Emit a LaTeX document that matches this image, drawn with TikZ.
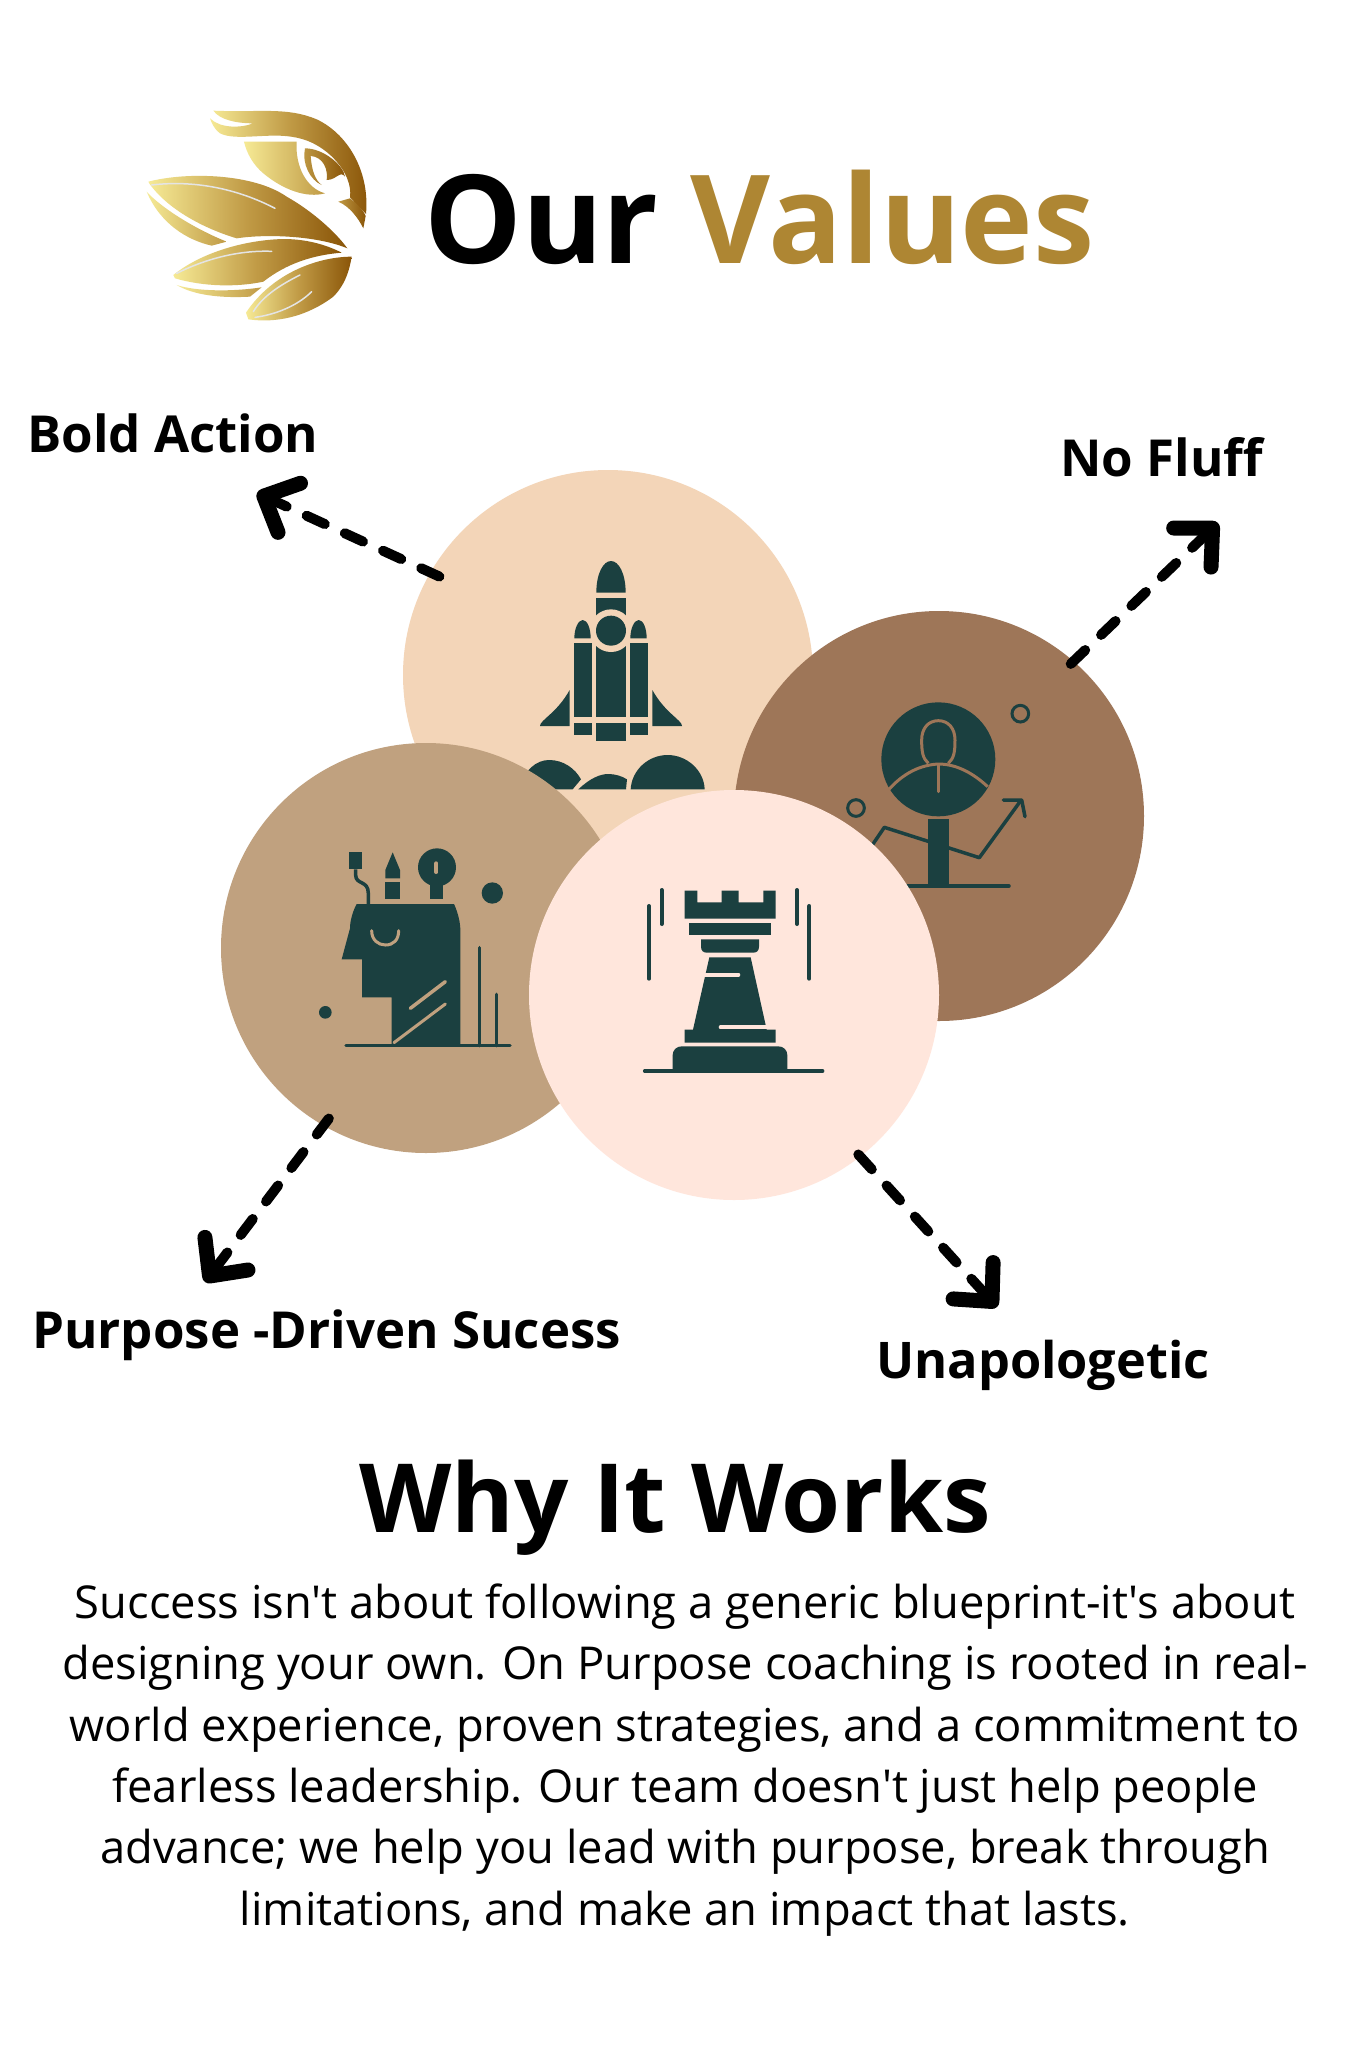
\documentclass[tikz,border=0pt]{standalone}
\usepackage{fontspec}
\setmainfont{Open Sans}[Ligatures=TeXOff]
\usetikzlibrary{arrows.meta}
\definecolor{icondark}{HTML}{1B4040}
\definecolor{actioncol}{HTML}{F3D5B8}
\definecolor{fluffcol}{HTML}{9E7658}
\definecolor{purposecol}{HTML}{C0A17F}
\definecolor{unapolcol}{HTML}{FFE6DC}
\definecolor{goldcol}{HTML}{AE8633}
\definecolor{logolight}{HTML}{F6EA95}
\definecolor{logomid}{HTML}{C09A45}
\definecolor{logodark}{HTML}{8A5508}
\definecolor{logoline}{HTML}{E4E4E4}
\tikzset{
	valuecircle/.style={circle,draw=none,inner sep=0pt,minimum size=410pt},
	valuelabel/.style={anchor=base west,inner sep=0pt,font=\fontsize{51}{60}\selectfont\bfseries},
	dashedarrow/.style={line width=10pt,line cap=round,dash pattern=on 20pt off 22pt,-{Straight Barb[length=28pt,width=54pt,line width=15pt,round]}},
	iconfill/.style={fill=icondark,draw=none},
	iconline/.style={draw=icondark,line width=3.5pt,line cap=round,line join=round},
	logoleaf/.style={left color=logolight,right color=logodark,middle color=logomid,draw=none},
	logopale/.style={left color=logolight,right color=logomid,draw=none},
	logodeep/.style={left color=logomid,right color=logodark,draw=none},
	logostroke/.style={draw=logoline,line width=1.5pt,line cap=round},
}
\begin{document}
\begin{tikzpicture}[x=1pt,y=-1pt]
	\useasboundingbox (0,0) rectangle (1365,2048);
	\fill[white] (0,0) rectangle (1365,2048);

	\begin{scope}[shift={(120,90)},scale=1/3]
		\shade[logoleaf] (280,62) .. controls (420,68) and (500,50) .. (590,88) .. controls (680,130) and (750,240) .. (738,372) -- (690,322) .. controls (700,250) and (620,160) .. (530,143) .. controls (450,125) and (350,155) .. (300,130) .. controls (285,120) and (275,100) .. (270,85) .. controls (300,115) and (360,115) .. (400,100) .. controls (350,100) and (300,90) .. cycle;
		\shade[logodeep] (655,335) -- (690,325) .. controls (710,340) and (730,360) .. (737,378) -- (730,415) .. controls (715,385) and (690,350) .. cycle;
		\shade[logopale] (372,155) -- (530,155) .. controls (525,230) and (560,295) .. (615,310) .. controls (560,325) and (490,300) .. (430,250) .. controls (400,225) and (380,190) .. cycle;
		\shade[logodeep] (555,175) .. controls (610,175) and (670,225) .. (675,260) .. controls (660,240) and (650,270) .. (620,270) .. controls (625,240) and (610,200) .. (572,198) .. controls (575,240) and (585,270) .. (605,285) .. controls (570,270) and (545,220) .. cycle;
		\shade[logoleaf] (85,275) .. controls (200,245) and (400,250) .. (500,320) .. controls (580,365) and (650,430) .. (682,475) .. controls (600,440) and (450,430) .. (350,445) .. controls (250,415) and (150,360) .. (95,290) .. controls (90,285) and (88,280) .. cycle;
		\shade[logopale] (80,305) .. controls (120,350) and (220,415) .. (320,455) -- (275,467) .. controls (200,450) and (120,400) .. cycle;
		\shade[logoleaf] (160,555) .. controls (240,490) and (370,450) .. (490,447) .. controls (570,447) and (630,470) .. (665,488) .. controls (580,495) and (500,520) .. (430,575) .. controls (350,592) and (250,590) .. (165,565) -- cycle;
		\shade[logopale] (170,585) .. controls (230,605) and (340,605) .. (425,592) -- (390,620) .. controls (300,625) and (220,615) .. cycle;
		\shade[logoleaf] (695,500) .. controls (600,500) and (460,545) .. (378,668) -- (385,688) .. controls (470,700) and (560,680) .. (640,620) .. controls (680,580) and (690,530) .. cycle;
		\draw[logostroke] (95,285) .. controls (220,270) and (350,295) .. (465,355);
		\draw[logostroke] (170,550) .. controls (250,510) and (350,480) .. (455,484);
		\draw[logostroke] (400,665) .. controls (430,615) and (490,580) .. (540,555);
		\draw[logostroke] (405,682) .. controls (460,675) and (530,650) .. (575,605);
	\end{scope}

	\node (titletext) [anchor=base west,inner sep=0pt,font=\fontsize{123}{140}\selectfont\bfseries] at (424,263) {Our \textcolor{goldcol}{Values}};

	\node (actionbg) [valuecircle,fill=actioncol] at (608,675) {};
	\begin{scope}[shift={(500,530)},scale=1/3]
		\fill[iconfill] (289,188) .. controls (289,130) and (310,93) .. (333,93) .. controls (356,93) and (377,130) .. (377,188) -- cycle;
		\fill[iconfill] (289,204) rectangle (377,562);
		\fill[actioncol] (333,302) circle (64);
		\fill[iconfill] (333,302) circle (45);
		\fill[iconfill] (289,578) rectangle (377,634);
		\foreach \offs in {0,168} {
			\fill[iconfill] (223+\offs,340) rectangle (275+\offs,562);
			\fill[iconfill] (223+\offs,578) rectangle (275+\offs,614);
			\fill[iconfill] (223+\offs,325) .. controls (223+\offs,295) and (235+\offs,270) .. (248+\offs,270) .. controls (262+\offs,270) and (272+\offs,295) .. (272+\offs,325) -- cycle;
		}
		\fill[iconfill] (209,480) -- (209,588) -- (120,588) .. controls (120,570) and (170,550) .. (209,480) -- cycle;
		\fill[iconfill] (457,480) -- (457,588) -- (546,588) .. controls (546,570) and (496,550) .. (457,480) -- cycle;
		\fill[iconfill] (60,778) .. controls (70,720) and (110,690) .. (147,690) .. controls (190,690) and (225,715) .. (243,748) -- (218,778) -- cycle;
		\fill[iconfill] (235,778) .. controls (270,745) and (300,732) .. (325,732) .. controls (345,732) and (365,738) .. (381,748) -- (378,778) -- cycle;
		\fill[iconfill] (392,778) .. controls (395,720) and (445,675) .. (503,675) .. controls (560,675) and (612,720) .. (614,778) -- cycle;
	\end{scope}

	\node (fluffbg) [valuecircle,fill=fluffcol] at (939,816) {};
	\begin{scope}[shift={(820,680)},scale=1/3]
		\fill[iconfill] (355,238) circle (171);
		\draw[fluffcol,line width=3pt] (325,250) .. controls (308,235) and (305,215) .. (305,180) .. controls (305,145) and (325,122) .. (355,122) .. controls (385,122) and (405,145) .. (405,180) .. controls (405,215) and (402,235) .. (385,250);
		\draw[fluffcol,line width=3pt] (207,328) .. controls (250,280) and (300,255) .. (355,252) .. controls (410,252) and (460,280) .. (503,320);
		\draw[fluffcol,line width=3pt,line cap=round] (356,255) -- (356,335);
		\draw[iconline] (140,520) -- (193,442) -- (478,533) -- (600,365);
		\draw[iconline] (550,360) -- (605,360) -- (615,410);
		\fill[iconfill] (323,418) rectangle (386,618);
		\draw[iconline] (200,618) -- (567,618);
		\draw[icondark,line width=3pt] (601,101) circle (25) (108,384) circle (25);
	\end{scope}

	\node (purposebg) [valuecircle,fill=purposecol] at (426,948) {};
	\begin{scope}[shift={(300,830)},scale=1/3]
		\fill[iconfill] (170,222) -- (462,222) .. controls (475,250) and (481,280) .. (481,300) -- (481,645) -- (275,645) -- (275,502) -- (186,502) -- (186,388) -- (125,388) -- (150,295) .. controls (150,270) and (160,240) .. (170,222) -- cycle;
		\draw[iconline] (138,647) -- (630,647);
		\draw[iconline] (539,353) -- (539,647);
		\draw[iconline] (590,493) -- (590,647);
		\draw[purposecol,line width=3pt,line cap=round] (215,302) .. controls (215,330) and (235,345) .. (256,345) .. controls (280,345) and (296,330) .. (296,302);
		\draw[purposecol,line width=3.5pt,line cap=round] (331,535) -- (436,455);
		\draw[purposecol,line width=3pt,line cap=round] (282,638) -- (436,522);
		\fill[iconfill] (148,67) rectangle (186,118);
		\draw[iconline,line cap=butt] (167,118) -- (167,135) .. controls (167,165) and (205,150) .. (205,190) -- (205,222);
		\fill[iconfill] (256,120) -- (278,67) -- (300,120) -- (300,145) -- (256,145) -- cycle;
		\fill[iconfill] (256,157) rectangle (300,208);
		\fill[iconfill] (411,112) circle (57);
		\fill[iconfill] (391,150) rectangle (430,208);
		\draw[purposecol,line width=4pt,line cap=round] (409,100) -- (409,126);
		\fill[iconfill] (577,189) circle (32);
		\fill[iconfill] (76,547) circle (19);
	\end{scope}

	\node (unapolbg) [valuecircle,fill=unapolcol] at (734,995) {};
	\begin{scope}[shift={(620,870)},scale=1/3]
		\fill[iconfill] (194,62) -- (232,62) -- (232,97) -- (305,97) -- (305,62) -- (356,62) -- (356,97) -- (430,97) -- (430,62) -- (467,62) -- (467,146) -- (194,146) -- cycle;
		\fill[iconfill] (206,158) rectangle (454,194);
		\fill[iconfill] (243,208) -- (417,208) -- (417,230) .. controls (417,242) and (410,248) .. (400,248) -- (260,248) .. controls (250,248) and (243,242) .. (243,230) -- cycle;
		\fill[iconfill] (268,262) -- (392,262) -- (440,479) -- (467,479) -- (467,518) -- (194,518) -- (194,479) -- (219,479) -- cycle;
		\draw[unapolcol,line width=4pt,line cap=round] (240,314) -- (355,314);
		\draw[unapolcol,line width=4pt,line cap=round] (302,472) -- (480,472);
		\fill[iconfill] (158,608) -- (158,555) .. controls (158,540) and (170,529) .. (185,529) -- (475,529) .. controls (490,529) and (502,540) .. (502,555) -- (502,608) -- cycle;
		\draw[iconline] (74,603) -- (608,603);
		\draw[iconline,line width=4pt] (125,60) -- (125,162);
		\draw[iconline,line width=4pt] (87,108) -- (87,326);
		\draw[iconline,line width=4pt] (531,60) -- (531,162);
		\draw[iconline,line width=4pt] (568,108) -- (568,326);
	\end{scope}

	\node (actionlabel) [valuelabel] at (27,452) {Bold Action};
	\node (flufflabel) [valuelabel] at (1060,476) {No Fluff};
	\node (purposelabel) [valuelabel] at (32,1348) {Purpose -Driven Sucess};
	\node (unapollabel) [valuelabel,font=\fontsize{50.5}{60}\selectfont\bfseries] at (876,1378) {Unapologetic};

	\coordinate (actiontip) at (257,493);
	\coordinate (flufftip) at (1218,523);
	\coordinate (purposetip) at (205,1282);
	\coordinate (unapoltip) at (997,1307);

	\draw[dashedarrow,shorten <=-10pt] (actionbg.150) -- (actiontip);
	\draw[dashedarrow,shorten <=-4pt] (fluffbg.49) -- (flufftip);
	\draw[dashedarrow,shorten <=-9pt] (purposebg.240) -- (purposetip);
	\draw[dashedarrow,shorten <=-3pt] (unapolbg.308) -- (unapoltip);

	\node (whytitle) [anchor=base,inner sep=0pt,font=\fontsize{95.5}{115}\selectfont\bfseries] at (675,1532) {Why It Works};
	\node (whytext) [anchor=base,inner sep=0pt,align=center,font=\fontsize{45.3}{61.3}\selectfont] at (685,1925) {Success isn't about following a generic blueprint-it's about\\designing your own. On Purpose coaching is rooted in real-\\world experience, proven strategies, and a commitment to\\fearless leadership. Our team doesn't just help people\\advance; we help you lead with purpose, break through\\limitations, and make an impact that lasts.};
\end{tikzpicture}
\end{document}
